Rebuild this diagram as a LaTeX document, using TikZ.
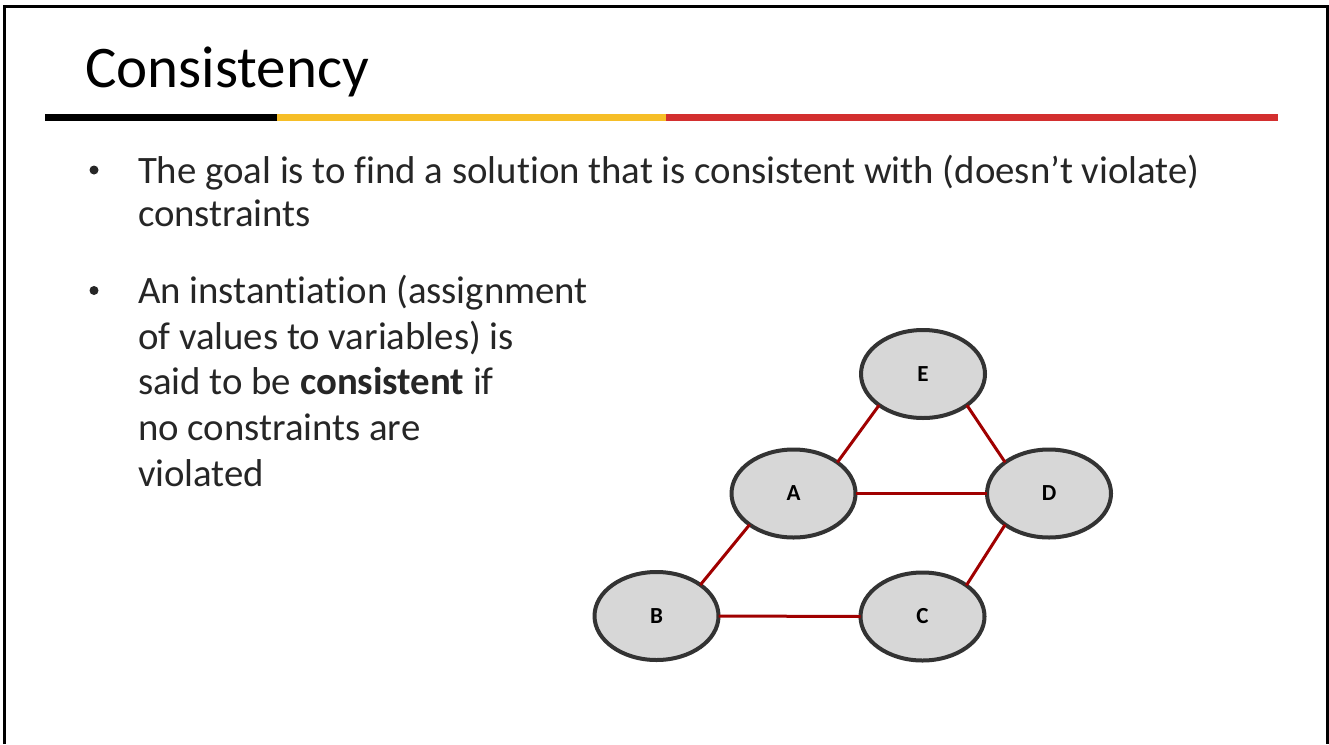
\documentclass[tikz,border=0pt]{standalone}
\usepackage{fontspec}
\setmainfont{Carlito}[Ligatures={NoCommon,NoContextual}]
\usetikzlibrary{shapes.geometric}
\definecolor{txt}{RGB}{38,38,38}
\definecolor{barY}{RGB}{246,190,39}
\definecolor{barR}{RGB}{211,47,47}
\definecolor{edgeR}{RGB}{160,0,0}
\definecolor{nodeF}{RGB}{215,215,215}
\definecolor{nodeD}{RGB}{51,51,51}
\tikzset{
  body/.style={anchor=base west, inner sep=0pt, outer sep=0pt, text=txt, font=\fontsize{38.8}{45}\selectfont},
  bul/.style={circle, fill=txt, inner sep=0pt, minimum size=9pt},
  var/.style={ellipse, draw=nodeD, line width=4pt, fill=nodeF, minimum width=124pt, minimum height=88pt, inner sep=0pt, outer sep=0pt, font=\fontsize{23}{27}\selectfont\bfseries, text=black},
  con/.style={draw=edgeR, line width=3pt},
  bar/.style={line width=7pt}
}
\begin{document}
\begin{tikzpicture}[x=1pt,y=-1pt]
\useasboundingbox (0,0) rectangle (1329,744);
\fill[white] (0,0) rectangle (1329,744);
% frame
\draw[line width=2.5pt, black] (4.7,744) -- (4.7,6.5) -- (1327.3,6.5) -- (1327.3,744);
% title
\node[anchor=base west, inner sep=0pt, font=\fontsize{59}{70}\selectfont] (title) at (85,87) {Consistency};
% bars
\draw[bar, black] (45,117) -- (277,117);
\draw[bar, barY] (277,117) -- (666,117);
\draw[bar, barR] (666,117) -- (1278,117);
% bullets
\node[bul] (b1) at (94,170) {};
\node[body] (l1) at (138,183) {The goal is to find a solution that is consistent with (doesn’t violate)};
\node[body] (l2) at (138,226.7) {constraints};
\node[bul] (b2) at (94,290.5) {};
\node[body] (m1) at (138,303.3) {An instantiation (assignment};
\node[body] (m2) at (138,349.1) {of values to variables) is};
\node[body] (m3) at (138,394.9) {said to be \textbf{consistent} if};
\node[body] (m4) at (138,440.7) {no constraints are};
\node[body] (m5) at (138,486.5) {violated};
% graph
\node[var] (E) at (923,374) {E};
\node[var] (A) at (793.5,493.5) {A};
\node[var] (D) at (1049,493.5) {D};
\node[var] (B) at (656.5,616) {B};
\node[var] (C) at (922.5,616.5) {C};
\draw[con] (E.south west) -- (A.north east);
\draw[con] (E.south east) -- (D.north west);
\draw[con] (A.east) -- (D.west);
\draw[con] (A.south west) -- (B.north east);
\draw[con] (D.south west) -- (C.north east);
\draw[con] (B.east) -- (C.west);
\end{tikzpicture}
\end{document}
